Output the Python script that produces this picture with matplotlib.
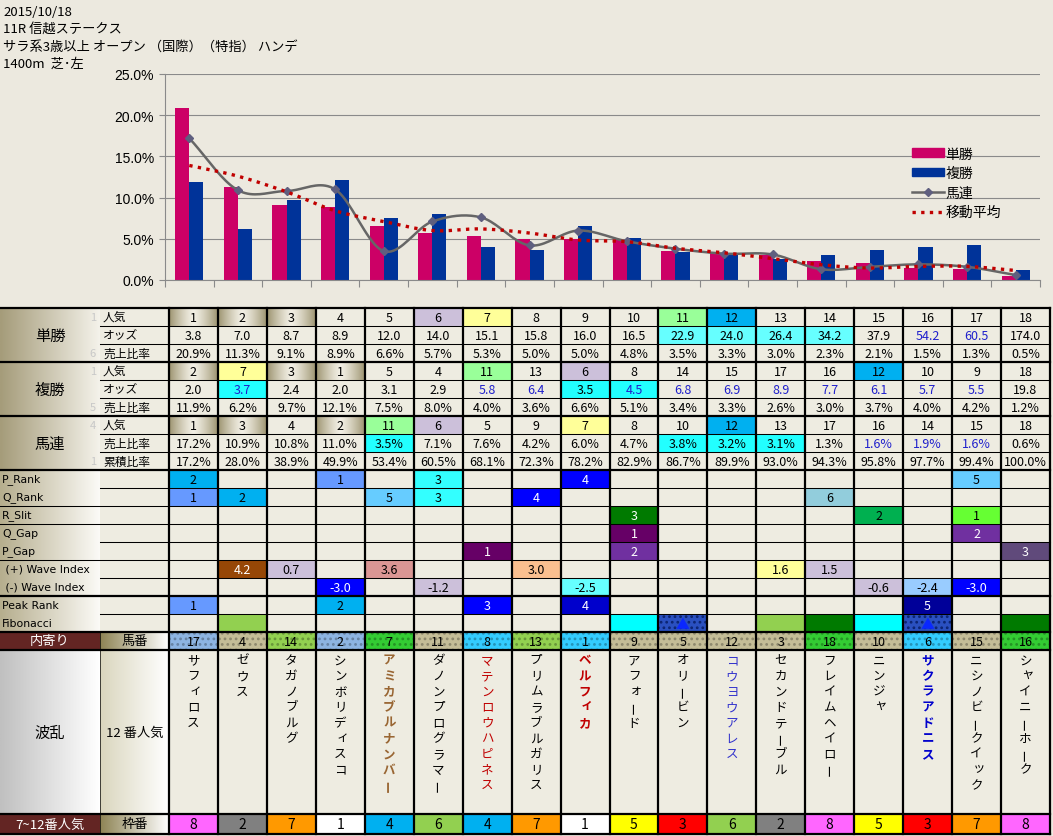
import numpy as np
import matplotlib.pyplot as plt
import matplotlib.colors as mcolors
from matplotlib.patches import Rectangle, Patch
from matplotlib.lines import Line2D

plt.rcParams['font.family'] = ['Noto Sans CJK JP', 'DejaVu Sans']
plt.rcParams['hatch.linewidth'] = 1.2

# ---------------- data ----------------
header = ['2015/10/18', '11R 信越ステークス',
          'サラ系3歳以上 オープン （国際）（特指） ハンデ', '1400m  芝･左']

popularity = list(range(1, 19))
win_odds = ['3.8', '7.0', '8.7', '8.9', '12.0', '14.0', '15.1', '15.8', '16.0',
            '16.5', '22.9', '24.0', '26.4', '34.2', '37.9', '54.2', '60.5', '174.0']
win_share = [20.9, 11.3, 9.1, 8.9, 6.6, 5.7, 5.3, 5.0, 5.0, 4.8, 3.5, 3.3, 3.0,
             2.3, 2.1, 1.5, 1.3, 0.5]
place_pop = [2, 7, 3, 1, 5, 4, 11, 13, 6, 8, 14, 15, 17, 16, 12, 10, 9, 18]
place_odds = ['2.0', '3.7', '2.4', '2.0', '3.1', '2.9', '5.8', '6.4', '3.5', '4.5',
              '6.8', '6.9', '8.9', '7.7', '6.1', '5.7', '5.5', '19.8']
place_share = [11.9, 6.2, 9.7, 12.1, 7.5, 8.0, 4.0, 3.6, 6.6, 5.1, 3.4, 3.3, 2.6,
               3.0, 3.7, 4.0, 4.2, 1.2]
quin_pop = [1, 3, 4, 2, 11, 6, 5, 9, 7, 8, 10, 12, 13, 17, 16, 14, 15, 18]
quin_share = [17.2, 10.9, 10.8, 11.0, 3.5, 7.1, 7.6, 4.2, 6.0, 4.7, 3.8, 3.2, 3.1,
              1.3, 1.6, 1.9, 1.6, 0.6]
quin_cum = [17.2, 28.0, 38.9, 49.9, 53.4, 60.5, 68.1, 72.3, 78.2, 82.9, 86.7, 89.9,
            93.0, 94.3, 95.8, 97.7, 99.4, 100.0]
moving_avg = [13.9, 12.6, 10.7, 8.4, 7.1, 6.0, 6.2, 5.7, 4.85, 4.65, 3.85, 3.3,
              2.6, 1.85, 1.45, 1.65, 1.65, 1.15]

umaban = [17, 4, 14, 2, 7, 11, 8, 13, 1, 9, 5, 12, 3, 18, 10, 6, 15, 16]
wakuban = [8, 2, 7, 1, 4, 6, 4, 7, 1, 5, 3, 6, 2, 8, 5, 3, 7, 8]
horse_names = ['サフィロス', 'ゼウス', 'タガノブルグ', 'シンボリディスコ', 'アミカブルナンバー',
               'ダノンプログラマー', 'マテンロウハピネス', 'プリムラブルガリス', 'ベルフィカ',
               'アフォード', 'オリービン', 'コウヨウアレス', 'セカンドテーブル', 'フレイムヘイロー',
               'ニンジャ', 'サクラアドニス', 'ニシノビークイック', 'シャイニーホーク']

# sparse index rows: column -> (text, colour)
p_rank = {0: ('2', '#00B0F0'), 3: ('1', '#6699FF'), 5: ('3', '#33FFFF'),
          8: ('4', '#0000FF'), 16: ('5', '#66CCFF')}
q_rank = {0: ('1', '#6699FF'), 1: ('2', '#00B0F0'), 4: ('5', '#66CCFF'),
          5: ('3', '#33FFFF'), 7: ('4', '#0000FF'), 13: ('6', '#92CDDC')}
r_slit = {9: ('3', '#007A00'), 14: ('2', '#00B050'), 16: ('1', '#66FF33')}
q_gap = {9: ('1', '#660066'), 16: ('2', '#7030A0')}
p_gap = {6: ('1', '#660066'), 9: ('2', '#7030A0'), 17: ('3', '#604A7B')}
wave_plus = {1: ('4.2', '#974706'), 2: ('0.7', '#CCC0DA'), 4: ('3.6', '#DA9694'),
             7: ('3.0', '#FABF8F'), 12: ('1.6', '#FFFF99'), 13: ('1.5', '#CCC0DA')}
wave_minus = {3: ('-3.0', '#0000FF'), 5: ('-1.2', '#CCC0DA'), 8: ('-2.5', '#66FFFF'),
              14: ('-0.6', '#CCC0DA'), 15: ('-2.4', '#99CCFF'), 16: ('-3.0', '#0000FF')}
peak_rank = {0: ('1', '#6699FF'), 3: ('2', '#00B0F0'), 6: ('3', '#0000FF'),
             8: ('4', '#0000CC'), 15: ('5', '#000099')}
fibonacci = {1: ('', '#92D050'), 9: ('', '#00FFFF'), 10: ('▲', 'dot'),
             12: ('', '#92D050'), 13: ('', '#007A00'), 14: ('', '#00FFFF'),
             15: ('▲', 'dot'), 17: ('', '#007A00')}

pop_colors = {6: '#CCC0DA', 7: '#FFFF99', 11: '#99FF99', 12: '#00B0F0'}
win_odds_bg = {10: '#66FFFF', 11: '#66FFFF', 12: '#66FFFF', 13: '#66FFFF'}
win_odds_blue = [15, 16]
place_odds_bg = {1: '#22FFFF', 8: '#22FFFF', 9: '#22FFFF'}
place_odds_blue = [1, 6, 7, 9, 10, 11, 12, 13, 14, 15, 16]
quin_share_bg = {4: '#22FFFF', 10: '#22FFFF', 11: '#22FFFF', 12: '#22FFFF'}
quin_share_blue = [14, 15, 16]
umaban_colors = ['#8DB4E2', '#C4BD97', '#92D050', '#8DB4E2', '#33CC33', '#C4BD97',
                 '#33CCFF', '#92D050', '#33CCFF', '#C4BD97', '#C4BD97', '#C4BD97',
                 '#C4BD97', '#33CC33', '#C4BD97', '#33CCFF', '#C4BD97', '#33CC33']
waku_colors = {1: '#FFFFFF', 2: '#808080', 3: '#FF0000', 4: '#00B0F0',
               5: '#FFFF00', 6: '#92D050', 7: '#FF9900', 8: '#FF66FF'}
name_style = {4: ('#996633', 'bold'), 6: ('#C00000', 'normal'), 8: ('#C00000', 'bold'),
              11: ('#3333CC', 'normal'), 15: ('#0000CC', 'bold')}

BG = '#ECE9DF'
CELL = '#EEECE1'
BLUE_TXT = '#2020CC'

W, H = 1053, 837
X0, XR = 169, 1050
CW = (XR - X0) / 18
TOP, RH = 309, 18


def txt_color(c):
    r, g, b = mcolors.to_rgb(c)
    return 'white' if 0.299 * r + 0.587 * g + 0.114 * b < 0.42 else 'black'


def gradient(ax, x0, x1, y0, y1, c0, c1, mirror=False):
    c0 = np.array(mcolors.to_rgb(c0))
    c1 = np.array(mcolors.to_rgb(c1))
    t = np.linspace(0, 1, 64)
    if mirror:
        t = 1 - np.abs(np.linspace(-1, 1, 64)) ** 1.3
    img = (c0[None, :] + (c1 - c0)[None, :] * t[:, None])[None, :, :]
    ax.imshow(img, extent=(x0, x1, y1, y0), aspect='auto',
              interpolation='bilinear', zorder=1)


def smooth_curve(x, y, steps=20):
    x = np.asarray(x, float)
    y = np.asarray(y, float)
    px = np.concatenate([[2 * x[0] - x[1]], x, [2 * x[-1] - x[-2]]])
    py = np.concatenate([[2 * y[0] - y[1]], y, [2 * y[-1] - y[-2]]])
    t = np.linspace(0, 1, steps, endpoint=False)
    xs, ys = [], []
    for i in range(1, len(px) - 2):
        for p, out in ((px, xs), (py, ys)):
            p0, p1, p2, p3 = p[i - 1:i + 3]
            out.extend(0.5 * (2 * p1 + (-p0 + p2) * t
                              + (2 * p0 - 5 * p1 + 4 * p2 - p3) * t ** 2
                              + (-p0 + 3 * p1 - 3 * p2 + p3) * t ** 3))
    xs.append(x[-1])
    ys.append(y[-1])
    return np.array(xs), np.array(ys)


fig = plt.figure(figsize=(W / 100, H / 100), dpi=100, facecolor=BG)
tab = fig.add_axes([0, 0, 1, 1])
tab.set_facecolor(BG)

# header text
for k, line in enumerate(header):
    tab.text(3, 12 + k * 17.5, line, fontsize=9.5, va='center', ha='left')

# ---------------- table ----------------
def cx(i):
    return X0 + i * CW


def ry(r):
    return TOP + r * RH


y_names = ry(19)
y_waku = 815
y_end = 835

tab.add_patch(Rectangle((X0, TOP), XR - X0, y_end - TOP, fc=CELL, ec='none', zorder=0.5))
tab.add_patch(Rectangle((100, TOP), X0 - 100, ry(18) - TOP, fc=CELL, ec='none', zorder=0.5))

# left label columns
for g, name in enumerate(['単勝', '複勝', '馬連']):
    gradient(tab, 0, 100, ry(3 * g), ry(3 * g + 3), '#A59C7A', '#F4F2EA')
    tab.text(50, ry(3 * g) + 1.5 * RH, name, fontsize=11, ha='center', va='center', zorder=5)
sub_labels = ['人気', 'オッズ', '売上比率', '人気', 'オッズ', '売上比率', '人気', '売上比率', '累積比率']
faint = {0: '1', 2: '6', 3: '1', 5: '5', 6: '4', 8: '1'}
for r, lab in enumerate(sub_labels):
    tab.text(103, ry(r) + RH / 2, lab, fontsize=8.5, va='center', ha='left', zorder=5)
    if r in faint:
        tab.text(96, ry(r) + RH / 2, faint[r], fontsize=8, va='center', ha='right',
                 color='#C8C8C8', zorder=5)

lower_labels = ['P_Rank', 'Q_Rank', 'R_Slit', 'Q_Gap', 'P_Gap', ' (+) Wave Index',
                ' (-) Wave Index', 'Peak Rank', 'Fibonacci']
gradient(tab, 0, 100, ry(9), ry(18), '#B6AE8E', '#FBFAF6')
for r, lab in enumerate(lower_labels):
    tab.text(2, ry(9 + r) + RH / 2, lab, fontsize=7.8, va='center', ha='left',
             family='DejaVu Sans', zorder=5)

# 馬番 row, names block, 枠番 row labels
tab.add_patch(Rectangle((0, ry(18)), 100, ry(19) - ry(18), fc='#632523', ec='none', zorder=1))
tab.add_patch(Rectangle((0, y_waku), 100, y_end - y_waku, fc='#632523', ec='none', zorder=1))
gradient(tab, 100, X0, ry(18), ry(19), '#8E8455', '#FFFFFF')
gradient(tab, 100, X0, y_waku, y_end, '#8E8455', '#FFFFFF')
gradient(tab, 0, 100, y_names, y_waku, '#C0C0C0', '#FFFFFF')
gradient(tab, 100, X0, y_names, y_waku, '#DAD6BE', '#FFFFFF')
tab.text(50, ry(18) + RH / 2, '内寄り', color='white', fontsize=9.5, ha='center', va='center', zorder=5)
tab.text(50, (y_waku + y_end) / 2, '7~12番人気', color='white', fontsize=9.5, ha='center', va='center', zorder=5)
tab.text(X0 / 2 + 50, ry(18) + RH / 2, '馬番', fontsize=9.5, ha='center', va='center', zorder=5)
tab.text(X0 / 2 + 50, (y_waku + y_end) / 2, '枠番', fontsize=9.5, ha='center', va='center', zorder=5)
tab.text(50, (y_names + y_waku) / 2, '波乱', fontsize=11, ha='center', va='center', zorder=5)
tab.text(X0 / 2 + 50, (y_names + y_waku) / 2, '12 番人気', fontsize=9.5, ha='center', va='center', zorder=5)


def cell(i, r, text, bg=None, color=None, size=9, y0=None, y1=None):
    top = ry(r) if y0 is None else y0
    bot = ry(r + 1) if y1 is None else y1
    if bg == 'gold':
        gradient(tab, cx(i), cx(i + 1), top, bot, '#9E9572', '#F2EFE4', mirror=True)
        bg_for_text = '#F2EFE4'
    elif bg is not None:
        tab.add_patch(Rectangle((cx(i), top), CW, bot - top, fc=bg, ec='none', zorder=1))
        bg_for_text = bg
    else:
        bg_for_text = CELL
    if color is None:
        color = txt_color(bg_for_text)
    tab.text(cx(i) + CW / 2, (top + bot) / 2, text, fontsize=size, color=color,
             ha='center', va='center', zorder=5)


def pop_bg(p):
    return 'gold' if p <= 3 else pop_colors.get(p)


for i in range(18):
    cell(i, 0, str(popularity[i]), pop_bg(popularity[i]))
    cell(i, 1, win_odds[i], win_odds_bg.get(i), BLUE_TXT if i in win_odds_blue else 'black')
    cell(i, 2, f'{win_share[i]:.1f}%')
    cell(i, 3, str(place_pop[i]), pop_bg(place_pop[i]))
    cell(i, 4, place_odds[i], place_odds_bg.get(i), BLUE_TXT if i in place_odds_blue else 'black')
    cell(i, 5, f'{place_share[i]:.1f}%')
    cell(i, 6, str(quin_pop[i]), pop_bg(quin_pop[i]))
    cell(i, 7, f'{quin_share[i]:.1f}%', quin_share_bg.get(i),
         BLUE_TXT if i in quin_share_blue else 'black')
    cell(i, 8, f'{quin_cum[i]:.1f}%')

for r, row in enumerate([p_rank, q_rank, r_slit, q_gap, p_gap, wave_plus, wave_minus, peak_rank]):
    for i, (t, c) in row.items():
        cell(i, 9 + r, t, c)

for i, (t, c) in fibonacci.items():
    if c == 'dot':
        tab.add_patch(Rectangle((cx(i), ry(17)), CW, RH, fc='#2A50C0', ec='#0C2472',
                                hatch='...', lw=0, zorder=1))
        tab.text(cx(i) + CW / 2, ry(17) + RH / 2 + 1, t, fontsize=10, color='#0A28FF',
                 ha='center', va='center', zorder=5)
    else:
        tab.add_patch(Rectangle((cx(i), ry(17)), CW, RH, fc=c, ec='none', zorder=1))

for i in range(18):
    base = np.array(mcolors.to_rgb(umaban_colors[i]))
    tab.add_patch(Rectangle((cx(i), ry(18)), CW, RH, fc=base, ec=base * 0.72,
                            hatch='...', lw=0, zorder=1))
    tab.text(cx(i) + CW / 2, ry(18) + RH / 2, str(umaban[i]), fontsize=9,
             ha='center', va='center', zorder=5)
    cell(i, 0, str(wakuban[i]), waku_colors[wakuban[i]], 'black', size=10,
         y0=y_waku, y1=y_end)
    col, wt = name_style.get(i, ('black', 'normal'))
    for j, ch in enumerate(horse_names[i]):
        dx, dy, rot = 0, 0, 0
        if ch == 'ー':
            rot = 90
        elif ch in 'ァィゥェォッャュョ':
            dx, dy = 2, -2
        tab.text(cx(i) + CW / 2 + dx, y_names + 10 + j * 15.6 + dy, ch, fontsize=9,
                 color=col, fontweight=wt, rotation=rot, ha='center', va='center', zorder=5)

# grid lines
thick = [ry(0), ry(3), ry(6), ry(9), ry(16), ry(18), ry(19), y_waku, y_end]
for r in range(1, 18):
    if ry(r) not in thick:
        x_start = 0 if r in (11, 12, 14) else 100
        tab.plot([x_start, XR], [ry(r), ry(r)], color='black', lw=0.75, zorder=6)
for y in thick:
    tab.plot([0, XR], [y, y], color='black', lw=1.6, zorder=7)
for i in range(19):
    tab.plot([cx(i), cx(i)], [TOP, y_end], color='black', lw=1.6, zorder=7)
tab.plot([100, 100], [ry(18), ry(19)], color='black', lw=0.5, zorder=6)
tab.plot([100, 100], [y_names, y_end], color='black', lw=0.5, zorder=6)

tab.set_xlim(0, W)
tab.set_ylim(H, 0)
tab.axis('off')

# ---------------- chart ----------------
ax = fig.add_axes([165 / W, 1 - 281 / H, 875 / W, 206 / H])
ax.set_facecolor('none')
x = np.arange(18)
bw = 0.29
ax.bar(x - bw / 2, win_share, bw, color='#CC0066', zorder=2)
ax.bar(x + bw / 2, place_share, bw, color='#003399', zorder=2)
sx, sy = smooth_curve(x, quin_share)
ax.plot(sx, sy, color='#666666', lw=1.8, zorder=3)
ax.plot(x, quin_share, 'D', color='#5F5F7F', ms=4, zorder=4)
mx, my = smooth_curve(x, moving_avg)
ax.plot(mx, my, color='#C00000', lw=2.4, linestyle=(0, (1, 1.6)), zorder=5)

ax.set_xlim(-0.5, 17.5)
ax.set_ylim(0, 25)
ax.set_yticks(np.arange(0, 26, 5))
ax.set_yticklabels([f'{v:.1f}%' for v in np.arange(0, 26, 5)],
                   family='Liberation Sans', fontsize=10)
ax.yaxis.grid(True, color='#8A8A8A', lw=0.8)
ax.set_axisbelow(True)
ax.set_xticks(np.arange(-0.5, 18, 1))
ax.set_xticklabels([])
ax.tick_params(axis='x', length=5, color='#8A8A8A')
ax.tick_params(axis='y', length=4, color='#8A8A8A', pad=4)
for s in ['top', 'right']:
    ax.spines[s].set_visible(False)
for s in ['left', 'bottom']:
    ax.spines[s].set_color('#8A8A8A')

handles = [Patch(color='#CC0066'), Patch(color='#003399'),
           Line2D([], [], color='#666666', lw=1.8, marker='D', ms=4, mfc='#5F5F7F', mec='#5F5F7F'),
           Line2D([], [], color='#C00000', lw=2.4, linestyle=(0, (1, 1.6)))]
ax.legend(handles, ['単勝', '複勝', '馬連', '移動平均'], loc='upper left',
          bbox_to_anchor=(906 / W, 1 - 142 / H), bbox_transform=fig.transFigure,
          frameon=False, fontsize=10, handlelength=2.3, handleheight=0.55,
          handletextpad=0.15, labelspacing=0.4, borderaxespad=0)

fig.savefig('out.png', dpi=100, facecolor=BG)
